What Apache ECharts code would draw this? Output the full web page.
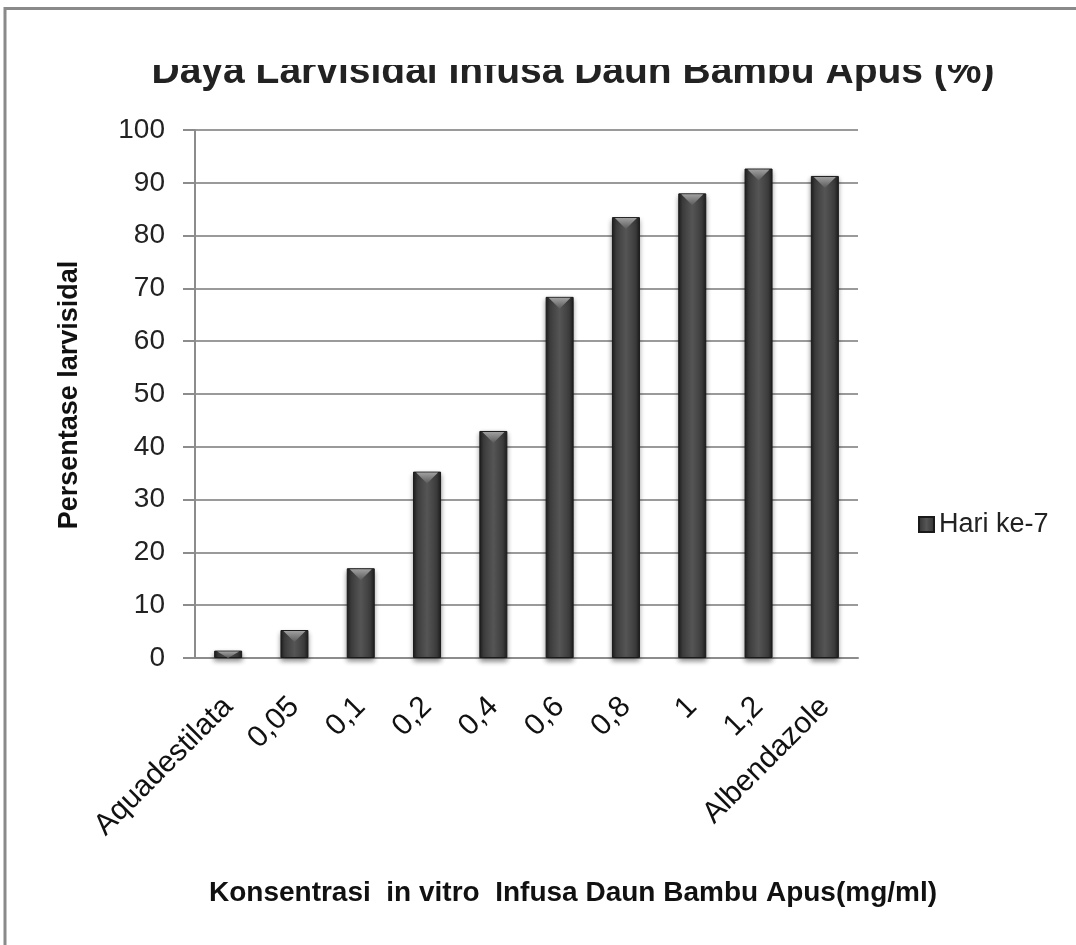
<!DOCTYPE html>
<html>
<head>
<meta charset="utf-8">
<script src="https://cdn.jsdelivr.net/npm/echarts@6/dist/echarts.min.js"></script>
<style>html,body{margin:0;padding:0;background:#fff}#c{width:1076px;height:945px}</style>
</head>
<body>
<div id="c"></div>
<script>
const titleText = 'Daya Larvisidal Infusa Daun Bambu Apus (%)';
const categories = ['Aquadestilata', '0,05', '0,1', '0,2', '0,4', '0,6', '0,8', '1', '1,2', 'Albendazole'];
const seriesName = 'Hari ke-7';
const values = [1.4, 5.3, 17.0, 35.3, 43.0, 68.4, 83.5, 88.0, 92.7, 91.3];
const yTicks = [0, 10, 20, 30, 40, 50, 60, 70, 80, 90, 100];
const xAxisName = 'Konsentrasi  in vitro  Infusa Daun Bambu Apus(mg/ml)';
const yAxisName = 'Persentase larvisidal';

const FONT = 'Liberation Sans';
const chart = echarts.init(document.getElementById('c'), null, {renderer: 'canvas'});
const barGrad = new echarts.graphic.LinearGradient(0, 0, 1, 0, [
  {offset: 0, color: '#1e1e1e'},
  {offset: 0.15, color: '#3c3c3c'},
  {offset: 0.5, color: '#555555'},
  {offset: 0.85, color: '#3c3c3c'},
  {offset: 1, color: '#1e1e1e'}
]);
const BAR_W = 28;
chart.setOption({
  animation: false,
  backgroundColor: '#fff',
  textStyle: {fontFamily: FONT},
  grid: {left: 195, right: 218, top: 130, bottom: 287, containLabel: false},
  legend: {
    show: true,
    data: [seriesName],
    orient: 'vertical',
    left: 913, top: 506,
    itemWidth: 15, itemHeight: 15, itemGap: 6,
    icon: 'rect',
    textStyle: {fontFamily: FONT, fontSize: 27, color: '#222'}
  },
  xAxis: {
    type: 'category',
    data: categories,
    axisLine: {show: true, lineStyle: {color: '#8c8c8c', width: 2}},
    axisTick: {show: false},
    axisLabel: {rotate: 45, margin: 44, fontSize: 30, color: '#111', fontFamily: FONT, interval: 0},
    splitLine: {show: false}
  },
  yAxis: {
    type: 'value',
    min: 0, max: 100, interval: 10,
    axisLine: {show: true, lineStyle: {color: '#8c8c8c', width: 2}},
    axisTick: {show: true, length: 12, lineStyle: {color: '#8c8c8c', width: 2}},
    axisLabel: {margin: 30, fontSize: 28, color: '#222', fontFamily: FONT,
      formatter: v => yTicks.indexOf(v) >= 0 ? String(v) : ''},
    splitLine: {show: true, lineStyle: {color: '#9a9a9a', width: 2}}
  },
  series: [
    {
      name: seriesName,
      type: 'bar',
      data: values,
      barWidth: BAR_W,
      itemStyle: {
        color: barGrad,
        borderColor: '#1a1a1a', borderWidth: 1,
        shadowBlur: 5, shadowColor: 'rgba(0,0,0,0.45)', shadowOffsetY: 3
      },
      z: 2
    },
    {
      name: 'bevel',
      type: 'custom',
      data: values.map((v, i) => [i, v]),
      silent: true,
      z: 3,
      renderItem: function (params, api) {
        const top = api.coord([api.value(0), api.value(1)]);
        const base = api.coord([api.value(0), 0]);
        const h = Math.min(11, Math.max(0, base[1] - top[1] - 1));
        const hw = BAR_W / 2 - 3;
        return {
          type: 'polygon',
          shape: {points: [[top[0] - hw, top[1] + 1], [top[0] + hw, top[1] + 1], [top[0], top[1] + 1 + h]]},
          style: {
            fill: new echarts.graphic.LinearGradient(0, 0, 0, 1, [
              {offset: 0, color: '#a0a0a0'},
              {offset: 1, color: '#5a5a5a'}
            ])
          }
        };
      }
    }
  ],
  graphic: [
    {
      type: 'text', z: 10,
      style: {text: titleText, x: 573, y: 72, align: 'center', verticalAlign: 'middle',
        font: 'bold 39px "' + FONT + '"', fill: '#222'}
    },
    {
      type: 'rect', z: 20,
      shape: {x: 8, y: 11, width: 1070, height: 54},
      style: {fill: '#fff'}
    },
    {
      type: 'rect', z: 30,
      shape: {x: 5, y: 8.5, width: 1100, height: 1000},
      style: {fill: 'none', stroke: '#8a8a8a', lineWidth: 3}
    },
    {
      type: 'text', z: 10,
      x: 70, y: 395,
      rotation: Math.PI / 2,
      style: {text: yAxisName, x: 0, y: 0, align: 'center', verticalAlign: 'middle',
        font: 'bold 27px "' + FONT + '"', fill: '#111'}
    },
    {
      type: 'text', z: 10,
      style: {text: xAxisName, x: 573, y: 893, align: 'center', verticalAlign: 'middle',
        font: 'bold 28px "' + FONT + '"', fill: '#111'}
    }
  ]
});
</script>
</body>
</html>
